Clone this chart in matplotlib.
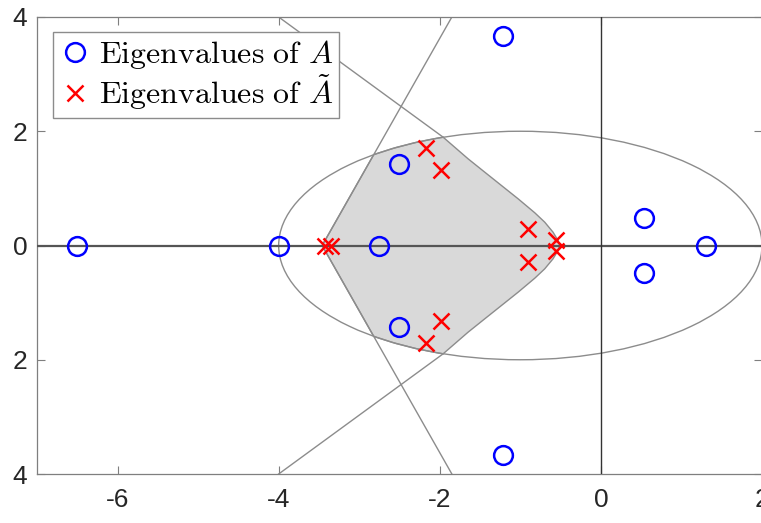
import matplotlib
matplotlib.use("Agg")
import matplotlib.pyplot as plt
from matplotlib.patches import Ellipse, Polygon
import numpy as np

plt.rcParams['mathtext.fontset'] = 'cm'

# Eigenvalues of A
eig_A_re = [-6.5, -4.0, -2.76, -2.5, -2.5, -1.22, -1.22, 0.54, 0.54, 1.31]
eig_A_im = [0.0, 0.0, 0.0, 1.42, -1.42, 3.66, -3.66, 0.49, -0.49, 0.0]

# Eigenvalues of A tilde
eig_At_re = [-3.43, -3.35, -2.17, -2.17, -1.99, -1.99, -0.90, -0.90, -0.56, -0.56]
eig_At_im = [0.0, 0.0, 1.70, -1.70, 1.33, -1.33, 0.29, -0.29, 0.09, -0.09]

# Ellipse (center, semi-axes)
ell_center = (-1.0, 0.0)
ell_a = 3.0
ell_b = 2.0

# Wedge lines
wedge1_x = [-1.85, -3.46, -1.85]
wedge1_y = [4.0, 0.0, -4.0]
wedge2_up_x = [-4.0, -1.959]
wedge2_up_y = [4.0, 1.897]

# Upper half of shaded region boundary (left vertex to right tip)
region_x = [-3.46, -2.82, -2.59, -2.315, -2.124, -1.959, -1.649, -1.442, -1.235,
            -1.028, -0.821, -0.697, -0.594, -0.532, -0.511]
region_y = [0.0, 1.59, 1.696, 1.798, 1.854, 1.897, 1.518, 1.284, 1.051,
            0.818, 0.573, 0.408, 0.233, 0.088, 0.0]

xticks = [-6, -4, -2, 0, 2]
xticklabels = ['-6', '-4', '-2', '0', '2']
yticks = [-4, -2, 0, 2, 4]
yticklabels = ['4', '2', '0', '2', '4']

fig = plt.figure(figsize=(7.61, 5.23), dpi=100)
W, H = 761, 523
ax = fig.add_axes([37 / W, 1 - 474 / H, 725 / W, 457 / H])
ax.set_xlim(-7, 2)
ax.set_ylim(-4, 4)

# shaded region
ux = np.array(region_x)
uy = np.array(region_y)
px = np.concatenate([ux, ux[::-1]])
py = np.concatenate([uy, -uy[::-1]])
ax.add_patch(Polygon(np.column_stack([px, py]), closed=True, facecolor='#d9d9d9',
                     edgecolor='#8c8c8c', linewidth=1.0, zorder=1))

ax.add_patch(Ellipse(ell_center, 2 * ell_a, 2 * ell_b, facecolor='none',
                     edgecolor='#8c8c8c', linewidth=1.0, zorder=2))
ax.plot(wedge1_x, wedge1_y, color='#8c8c8c', lw=1.0, zorder=2)
ax.plot(wedge2_up_x, wedge2_up_y, color='#8c8c8c', lw=1.0, zorder=2)
ax.plot(wedge2_up_x, [-v for v in wedge2_up_y], color='#8c8c8c', lw=1.0, zorder=2)

ax.axhline(0, color='#555555', lw=1.6, zorder=3)
ax.axvline(0, color='#333333', lw=1.0, zorder=3)

ax.plot(eig_A_re, eig_A_im, 'o', ms=13.5, mfc='none', mec='#0000ff', mew=1.8,
        linestyle='none', zorder=5, label=r'$\mathrm{Eigenvalues\ of}\ A$')
ax.plot(eig_At_re, eig_At_im, 'x', ms=11.5, mec='#ff0000', mew=1.8,
        linestyle='none', zorder=6, label=r'$\mathrm{Eigenvalues\ of}\ \tilde{A}$')

for s in ax.spines.values():
    s.set_color('#7f7f7f')
    s.set_linewidth(0.9)

ax.set_xticks(xticks)
ax.set_xticklabels(xticklabels)
ax.set_yticks(yticks)
ax.set_yticklabels(yticklabels)
ax.tick_params(direction='in', length=6, width=0.8, color='#7f7f7f',
               labelsize=19, labelcolor='#262626', top=True, right=True)
ax.tick_params(axis='x', pad=10)
ax.tick_params(axis='y', pad=7)
for lab in ax.get_xticklabels() + ax.get_yticklabels():
    lab.set_fontfamily('Liberation Sans')

leg = ax.legend(loc='upper left', bbox_to_anchor=((53 - 37) / 725, (474 - 32) / 457),
                fontsize=23, frameon=True, fancybox=False, framealpha=1,
                edgecolor='#8c8c8c', handletextpad=0.27, borderpad=0.18,
                handlelength=1.0, labelspacing=0.05, borderaxespad=0)
leg.get_frame().set_linewidth(1.0)

fig.savefig('out.png', dpi=100)
